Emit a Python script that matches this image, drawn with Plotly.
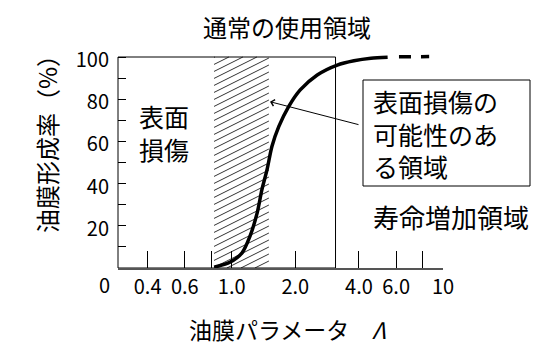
import math
import plotly.graph_objects as go

# ---------------- data ----------------
lam_curve = [0.826, 0.98, 1.12, 1.22, 1.32, 1.39, 1.47, 1.55, 1.67, 1.86, 2.11, 2.54, 3.16, 3.79, 4.56, 5.47]
film_curve = [0.4, 2.7, 7.2, 15.0, 26.1, 37.1, 46.6, 57.6, 67.0, 76.5, 84.4, 91.5, 96.2, 98.2, 99.4, 99.9]
lam_dash = [6.19, 8.6]
film_dash = [100.1, 100.2]

damage_limit = 0.825      # left edge of hatched region
transition_limit = 1.5    # right edge of hatched region
normal_limit = 3.1        # right edge of "normal use" frame

x_tick_vals = [0.4, 0.6, 0.8, 1.0, 2.0, 4.0, 6.0, 8.0, 10.0]
x_tick_text = ["0.4", "0.6", "", "1.0", "2.0", "4.0", "6.0", "", "10"]
y_tick_vals = [10, 20, 30, 40, 50, 60, 70, 80, 90, 100]
y_tick_text = ["", "20", "", "40", "", "60", "", "80", "", "100"]

# ---------------- layout constants ----------------
W, H = 556, 358
ML, MR, MT, MB = 118, 113, 53, 90
PW, PH = W - ML - MR, H - MT - MB
XLO, XHI = -0.538, 1.0
YHI = PH / ((H - MB - 57) / 100.0)

JP = "Noto Sans CJK JP"


def px2paper_x(px):
    return (px - ML) / PW


def px2paper_y(py):
    return (H - MB - py) / PH


fig = go.Figure()

# hatch lines inside the transition region (computed from region bounds)
dec_px = PW / (XHI - XLO)
unit_px = PH / YHI
x0p = math.log10(damage_limit) * dec_px
x1p = math.log10(transition_limit) * dec_px
wp = x1p - x0p
hp = 100 * unit_px
slope, spacing = 0.5, 7.0
hx, hy = [], []
c = -slope * wp
while c < hp:
    if c >= 0:
        a = (x0p, c)
    else:
        a = (x0p - c / slope, 0.0)
    yr = c + slope * wp
    if yr <= hp:
        b = (x1p, yr)
    else:
        b = (x0p + (hp - c) / slope, hp)
    for p in (a, b):
        hx.append(10 ** (p[0] / dec_px))
        hy.append(p[1] / unit_px)
    hx.append(None)
    hy.append(None)
    c += spacing

fig.add_trace(go.Scatter(x=hx, y=hy, mode="lines", line=dict(color="black", width=0.8),
                         hoverinfo="skip", showlegend=False))

fig.add_trace(go.Scatter(x=lam_curve, y=film_curve, mode="lines",
                         line=dict(color="black", width=3.5, shape="spline", smoothing=0.8),
                         showlegend=False))
fig.add_trace(go.Scatter(x=lam_dash, y=film_dash, mode="lines",
                         line=dict(color="black", width=3.5, dash="12px,10px"),
                         showlegend=False))

shapes = [
    dict(type="rect", xref="paper", yref="y", x0=0, x1=px2paper_x(ML + (math.log10(normal_limit) - XLO) * dec_px),
         y0=0, y1=100, line=dict(color="black", width=1)),
    dict(type="line", xref="x", yref="y", x0=math.log10(damage_limit), x1=math.log10(damage_limit),
         y0=0, y1=100, line=dict(color="black", width=1)),
    # box around annotation text
    dict(type="rect", xref="paper", yref="paper", x0=px2paper_x(363), x1=px2paper_x(530),
         y0=px2paper_y(186), y1=px2paper_y(80), line=dict(color="black", width=1)),
]

ann = []


def text(t, px, py, size, xanchor="center", angle=0, align="center"):
    ann.append(dict(text=t, xref="paper", yref="paper", x=px2paper_x(px), y=px2paper_y(py),
                    xanchor=xanchor, yanchor="middle", showarrow=False, textangle=angle, align=align,
                    font=dict(family=JP, size=size, color="black")))


text("通常の使用領域", 287, 26, 24)
text("表面<br>損傷", 164, 132, 25)
text("表面損傷の<br>可能性のあ<br>る領域", 371, 133, 25, "left", align="left")
text("寿命増加領域", 371, 216, 26, "left")
text("油膜パラメータ　<i>Λ</i>", 287, 329, 23)
text("油膜形成率（%）", 46, 138, 24, angle=-90)
text("0", 104, 284, 20)

# arrow from text box to hatched region
ann.append(dict(xref="paper", yref="paper", x=px2paper_x(270), y=px2paper_y(101.7),
                ax=90, ay=23.3, axref="pixel", ayref="pixel",
                text="", showarrow=True, arrowhead=4, arrowsize=1.3, arrowwidth=1,
                arrowcolor="black", standoff=0))

fig.update_layout(
    width=W, height=H, margin=dict(l=ML, r=MR, t=MT, b=MB, autoexpand=False),
    paper_bgcolor="white", plot_bgcolor="white",
    shapes=shapes, annotations=ann, showlegend=False,
    xaxis=dict(type="log", range=[XLO, XHI], tickmode="array", tickvals=x_tick_vals, ticktext=x_tick_text,
               ticks="inside", ticklen=17, tickwidth=1, tickcolor="black", automargin=False,
               showline=True, linecolor="#555", linewidth=2, showgrid=False, zeroline=False,
               tickfont=dict(family=JP, size=20, color="black"), ticklabelstandoff=0),
    yaxis=dict(range=[0, YHI], tickmode="array", tickvals=y_tick_vals, ticktext=y_tick_text,
               ticks="inside", ticklen=8, tickwidth=1, tickcolor="black", automargin=False,
               showline=False, showgrid=False, zeroline=False,
               tickfont=dict(family=JP, size=20, color="black"), ticklabelstandoff=8, ticklabelshift=3),
)

fig.write_html("out.html", config={"displayModeBar": False},
               post_script="document.body.style.margin='0';")
